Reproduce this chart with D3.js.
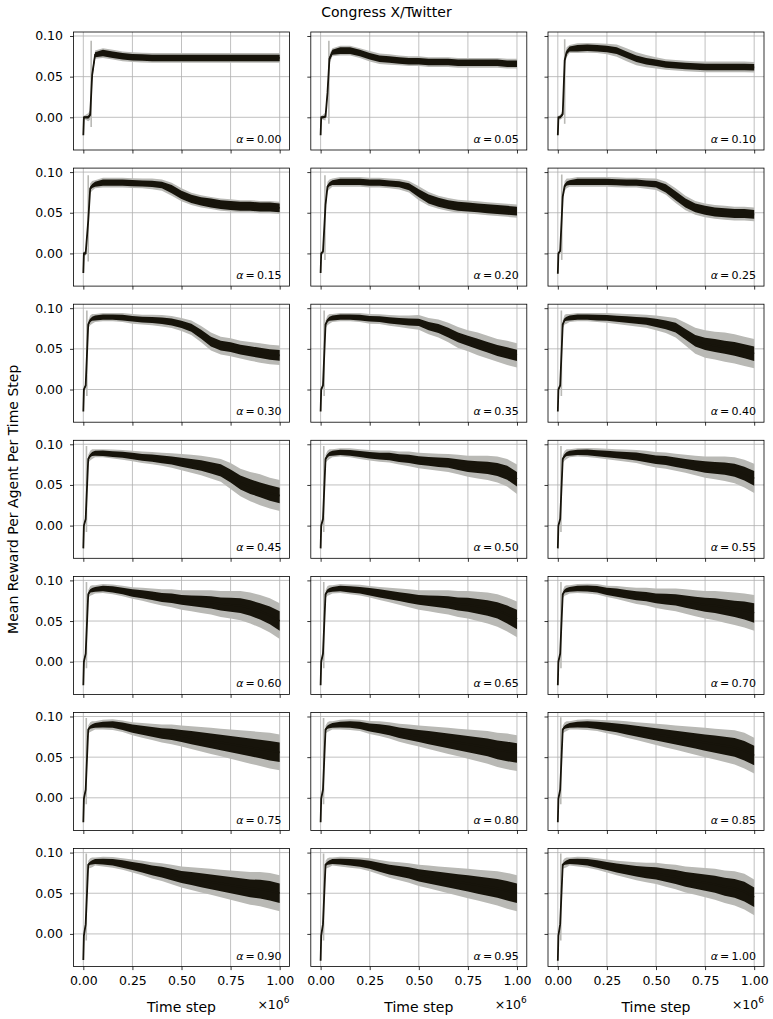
<!DOCTYPE html>
<html>
<head>
<meta charset="utf-8">
<script src="https://cdn.jsdelivr.net/npm/d3@7"></script>
<style>
  body { margin: 0; background: #fff; }
  text { font-family: "DejaVu Sans", sans-serif; fill: #000; }
</style>
</head>
<body>
<svg id="chart" width="773" height="1019"></svg>
<script>
// panel labels (alpha values)
const alphas = ["0.00","0.05","0.10","0.15","0.20","0.25","0.30","0.35","0.40","0.45",
                "0.50","0.55","0.60","0.65","0.70","0.75","0.80","0.85","0.90","0.95","1.00"];

// time steps (x 1e6): early transient + main grid
const xStart = [0, 0.003, 0.012, 0.025, 0.035, 0.045, 0.06];
const xMain = [0.1, 0.15, 0.2, 0.25, 0.3, 0.35, 0.4, 0.45, 0.5, 0.55, 0.6, 0.65, 0.7, 0.75, 0.8, 0.85, 0.9, 0.95, 1.0];

const xTicks = [0, 0.25, 0.5, 0.75, 1.0];
const yTicks = [0, 0.05, 0.10];

// mean reward during the first steps, one row per panel
const meanStart = [
  [-0.022, 0, 0, 0, 0.003, 0.052, 0.077],
  [-0.022, 0, 0, 0.001, 0.030, 0.072, 0.080],
  [-0.022, 0, 0, 0.004, 0.070, 0.080, 0.084],
  [-0.024, 0, 0, 0.040, 0.080, 0.083, 0.085],
  [-0.024, 0, 0.002, 0.060, 0.082, 0.085, 0.087],
  [-0.025, 0, 0.003, 0.070, 0.083, 0.086, 0.087],
  [-0.027, 0, 0.005, 0.080, 0.085, 0.087, 0.088],
  [-0.027, 0, 0.005, 0.080, 0.085, 0.087, 0.088],
  [-0.027, 0, 0.005, 0.080, 0.086, 0.087, 0.088],
  [-0.028, 0, 0.008, 0.082, 0.086, 0.088, 0.089],
  [-0.028, 0, 0.008, 0.082, 0.086, 0.088, 0.089],
  [-0.028, 0, 0.008, 0.082, 0.086, 0.088, 0.089],
  [-0.029, 0, 0.010, 0.083, 0.087, 0.088, 0.089],
  [-0.029, 0, 0.010, 0.083, 0.087, 0.088, 0.089],
  [-0.029, 0, 0.010, 0.083, 0.087, 0.088, 0.089],
  [-0.030, -0.001, 0.010, 0.084, 0.087, 0.088, 0.089],
  [-0.030, -0.001, 0.010, 0.084, 0.087, 0.088, 0.089],
  [-0.030, -0.001, 0.010, 0.084, 0.087, 0.088, 0.089],
  [-0.032, -0.002, 0.012, 0.085, 0.087, 0.088, 0.089],
  [-0.033, -0.002, 0.012, 0.085, 0.087, 0.088, 0.089],
  [-0.033, -0.002, 0.012, 0.085, 0.087, 0.088, 0.089]
];

// mean reward on the main grid
const meanMain = [
  [.079,.077,.075,.074,.0735,.073,.073,.073,.073,.073,.073,.073,.073,.073,.073,.073,.073,.073,.073],
  [.082,.082,.079,.075,.072,.071,.070,.069,.069,.068,.068,.068,.067,.067,.067,.067,.067,.066,.066],
  [.085,.0855,.085,.084,.082,.077,.072,.069,.067,.065,.064,.063,.0625,.062,.062,.062,.062,.062,.0615],
  [.087,.087,.087,.0865,.086,.0855,.084,.079,.072,.067,.064,.062,.060,.059,.058,.058,.057,.057,.056],
  [.088,.088,.088,.087,.087,.086,.085,.082,.074,.067,.063,.060,.058,.057,.056,.055,.054,.053,.052],
  [.088,.088,.088,.088,.0875,.087,.087,.086,.085,.080,.071,.062,.056,.053,.051,.050,.049,.049,.048],
  [.089,.089,.0885,.087,.086,.0855,.0845,.083,.080,.076,.068,.059,.054,.052,.049,.047,.045,.043,.042],
  [.089,.089,.0885,.087,.0865,.085,.084,.083,.0825,.078,.075,.070,.064,.060,.056,.052,.048,.045,.042],
  [.089,.089,.0885,.088,.087,.086,.085,.084,.082,.0795,.076,.068,.060,.056,.054,.052,.050,.047,.044],
  [.089,.088,.087,.0855,.084,.083,.0815,.080,.078,.076,.074,.071,.068,.061,.053,.048,.044,.040,.037],
  [.090,.0895,.088,.0865,.0855,.085,.083,.082,.080,.079,.078,.077,.075,.073,.072,.071,.069,.065,.057],
  [.090,.090,.089,.088,.087,.086,.085,.083,.081,.080,.078,.076,.074,.072,.071,.070,.068,.064,.058],
  [.090,.089,.087,.0845,.083,.081,.079,.078,.076,.075,.074,.073,.071,.070,.069,.066,.062,.057,.050],
  [.090,.089,.088,.086,.084,.082,.080,.078,.076,.075,.074,.073,.071,.070,.068,.066,.063,.058,.052],
  [.090,.090,.089,.0865,.085,.083,.081,.080,.078,.077,.076,.074,.072,.070,.069,.067,.065,.063,.060],
  [.090,.090,.088,.085,.083,.081,.079,.078,.076,.074,.072,.070,.068,.066,.064,.062,.060,.058,.056],
  [.090,.090,.089,.0865,.085,.083,.080,.078,.076,.074,.072,.070,.068,.066,.064,.062,.059,.057,.055],
  [.090,.090,.089,.0875,.086,.084,.082,.080,.078,.076,.074,.072,.070,.068,.066,.064,.062,.058,.052],
  [.089,.088,.086,.0835,.081,.078,.076,.073,.070,.068,.066,.064,.062,.060,.058,.056,.055,.053,.050],
  [.089,.088,.087,.085,.082,.079,.077,.075,.072,.070,.068,.066,.064,.062,.060,.058,.056,.053,.050],
  [.089,.088,.086,.0835,.081,.079,.077,.0755,.0745,.072,.070,.067,.065,.063,.061,.058,.056,.052,.045]
];

// half spread of the dark (mean) band and of the light band
const blackStart = [0.0012, 0.0012, 0.0012, 0.0015, 0.002, 0.0025, 0.003];
const grayStart  = [0.002, 0.002, 0.003, 0.005, 0.006, 0.006, 0.005];

const blackHalf = [
  [.004,.004,.004,.004,.004,.004,.004,.004,.004,.004,.004,.004,.004,.004,.004,.004,.004,.004,.004],
  [.004,.004,.004,.004,.004,.004,.004,.004,.004,.004,.004,.004,.004,.004,.004,.004,.004,.004,.004],
  [.004,.004,.004,.004,.004,.004,.004,.004,.004,.004,.004,.004,.004,.004,.004,.004,.004,.004,.004],
  [.0038,.0038,.0038,.0038,.0038,.0038,.004,.005,.005,.005,.005,.0055,.0055,.0055,.0055,.0055,.0055,.0055,.0055],
  [.0038,.0038,.0038,.0038,.0038,.0038,.0038,.0042,.005,.0055,.0055,.0055,.0055,.0055,.0055,.0055,.0055,.0055,.0055],
  [.0038,.0038,.0038,.0038,.0038,.0038,.0038,.0038,.004,.005,.0055,.0055,.0055,.0055,.0055,.0055,.0055,.0055,.0055],
  [.0033,.0033,.0035,.0035,.0035,.0038,.004,.0042,.0045,.005,.0055,.006,.006,.006,.006,.0062,.0062,.0065,.0065],
  [.0033,.0033,.0035,.0035,.0035,.0038,.004,.0042,.0045,.005,.0055,.006,.006,.0062,.0065,.0065,.0068,.007,.007],
  [.0033,.0033,.0035,.0035,.0038,.004,.0042,.0045,.005,.0055,.006,.0065,.007,.0075,.008,.008,.0085,.0085,.009],
  [.0033,.0035,.0037,.004,.0042,.0045,.0048,.005,.0055,.006,.0065,.007,.0075,.008,.0085,.009,.009,.0095,.0095],
  [.0033,.0035,.0037,.004,.0042,.0045,.0048,.005,.0052,.0055,.0058,.006,.0065,.007,.0072,.0075,.008,.0085,.009],
  [.0033,.0035,.0037,.004,.0042,.0045,.0048,.005,.0052,.0055,.0058,.006,.0065,.007,.0072,.0075,.008,.0085,.009],
  [.0035,.0038,.004,.0045,.005,.0052,.0055,.0058,.006,.0065,.007,.0075,.008,.0085,.009,.0095,.010,.011,.012],
  [.0035,.0038,.004,.0045,.005,.0052,.0055,.0058,.006,.0065,.007,.0075,.008,.0085,.009,.0095,.010,.011,.012],
  [.0035,.0038,.004,.0045,.005,.0052,.0055,.0058,.006,.0065,.007,.0075,.008,.0085,.009,.0095,.010,.011,.012],
  [.0035,.004,.0045,.005,.0055,.006,.0065,.007,.0075,.008,.0085,.009,.0095,.010,.0105,.011,.0115,.012,.012],
  [.0035,.004,.0045,.005,.0055,.006,.0065,.007,.0075,.008,.0085,.009,.0095,.010,.0105,.011,.0115,.012,.012],
  [.0035,.004,.0045,.005,.0055,.006,.0065,.007,.0075,.008,.0085,.009,.0095,.010,.0105,.011,.0115,.012,.012],
  [.0035,.004,.0045,.005,.0055,.006,.0065,.007,.0075,.008,.0085,.009,.0095,.010,.0105,.011,.0115,.012,.012],
  [.0035,.004,.0045,.005,.0055,.006,.0065,.007,.0075,.008,.0085,.009,.0095,.010,.0105,.011,.0115,.012,.012],
  [.0035,.004,.0045,.005,.0055,.006,.0065,.007,.0075,.008,.0085,.009,.0095,.010,.0105,.011,.0115,.012,.012]
];

const grayHalf = [
  [.006,.006,.006,.006,.006,.006,.006,.006,.006,.006,.006,.006,.006,.006,.006,.006,.006,.006,.006],
  [.006,.006,.006,.0065,.0065,.0065,.006,.006,.006,.006,.006,.006,.006,.006,.006,.006,.006,.006,.006],
  [.006,.006,.006,.0065,.0075,.008,.008,.0075,.007,.0065,.0065,.0065,.0065,.0065,.0065,.0065,.0065,.0065,.0065],
  [.006,.006,.006,.006,.006,.0065,.007,.008,.008,.0075,.0075,.0075,.0075,.0075,.0075,.0075,.0075,.0075,.0075],
  [.006,.006,.006,.006,.006,.006,.0065,.007,.0085,.0085,.008,.008,.008,.008,.008,.008,.008,.008,.008],
  [.006,.006,.006,.006,.006,.006,.006,.0065,.007,.008,.009,.009,.0085,.0085,.0085,.0085,.0085,.0085,.0085],
  [.005,.005,.0055,.006,.006,.0065,.007,.0075,.008,.009,.010,.011,.011,.011,.011,.0115,.012,.012,.012],
  [.005,.005,.0055,.006,.006,.0065,.007,.008,.009,.010,.011,.012,.013,.013,.014,.014,.014,.015,.015],
  [.005,.005,.0055,.006,.0065,.007,.0075,.008,.009,.010,.012,.014,.016,.017,.017,.018,.018,.018,.018],
  [.005,.0055,.006,.0065,.007,.0075,.008,.009,.010,.011,.012,.013,.014,.016,.017,.018,.019,.019,.019],
  [.005,.0055,.006,.0065,.007,.0075,.008,.009,.0095,.010,.0105,.011,.012,.013,.014,.015,.016,.017,.018],
  [.005,.0055,.006,.0065,.007,.0075,.008,.009,.0095,.010,.0105,.011,.012,.013,.014,.015,.016,.017,.018],
  [.0055,.006,.0065,.007,.008,.009,.010,.011,.012,.013,.014,.015,.016,.017,.018,.019,.020,.021,.022],
  [.0055,.006,.0065,.007,.008,.009,.010,.011,.012,.013,.014,.015,.016,.017,.018,.019,.020,.021,.022],
  [.0055,.006,.0065,.007,.008,.009,.010,.011,.012,.013,.014,.015,.016,.017,.018,.019,.020,.021,.022],
  [.006,.0065,.007,.008,.009,.010,.011,.012,.013,.014,.015,.016,.017,.018,.019,.020,.021,.022,.022],
  [.006,.0065,.007,.008,.009,.010,.011,.012,.013,.014,.015,.016,.017,.018,.019,.020,.021,.022,.022],
  [.006,.0065,.007,.008,.009,.010,.011,.012,.013,.014,.015,.016,.017,.018,.019,.020,.021,.022,.022],
  [.006,.0065,.007,.008,.009,.010,.011,.012,.013,.014,.015,.016,.017,.018,.019,.020,.021,.022,.022],
  [.006,.0065,.007,.008,.009,.010,.011,.012,.013,.014,.015,.016,.017,.018,.019,.020,.021,.022,.022],
  [.006,.0065,.007,.008,.009,.010,.011,.012,.013,.014,.015,.016,.017,.018,.019,.020,.021,.022,.022]
];

// early spike of the light band: [time step, low, high]
const spikes = [
  [0.040, -0.012, 0.094], [0.042, -0.008, 0.094], [0.035, -0.008, 0.096],
  [0.025, -0.010, 0.096], [0.022, -0.008, 0.096], [0.020, -0.008, 0.097],
  [0.018, -0.008, 0.097], [0.018, -0.008, 0.097], [0.018, -0.008, 0.097],
  [0.016, -0.008, 0.098], [0.016, -0.008, 0.098], [0.016, -0.008, 0.098],
  [0.016, -0.008, 0.098], [0.016, -0.008, 0.098], [0.016, -0.008, 0.098],
  [0.015, -0.008, 0.098], [0.015, -0.008, 0.098], [0.015, -0.008, 0.099],
  [0.015, -0.008, 0.099], [0.015, -0.008, 0.099], [0.015, -0.008, 0.099]
];

// layout
const W = 773, H = 1019;
const nCols = 3, nRows = 7;
const colLeft = [73.5, 310.8, 548];
const rowTop0 = 32, rowPitch = 136.1;
const pw = 216, ph = 118;
const gridColor = "#b0b0b0";
const bandGray = "#b9b9b5";
const lineBlack = "#17140b";

const svg = d3.select("#chart");

const x = d3.scaleLinear().domain([-0.05, 1.05]).range([0, pw]);
const y = d3.scaleLinear().domain([-0.0402, 0.1049]).range([ph, 0]);

svg.append("text")
  .attr("x", W / 2).attr("y", 17)
  .attr("text-anchor", "middle")
  .style("font-size", "14px")
  .text("Congress X/Twitter");

svg.append("text")
  .attr("transform", `translate(18,${rowTop0 + (rowPitch * (nRows - 1) + ph) / 2}) rotate(-90)`)
  .attr("text-anchor", "middle")
  .style("font-size", "14px")
  .text("Mean Reward Per Agent Per Time Step");

alphas.forEach((a, i) => {
  const row = Math.floor(i / nCols), col = i % nCols;
  const g = svg.append("g")
    .attr("transform", `translate(${colLeft[col]},${rowTop0 + row * rowPitch})`);

  g.append("clipPath").attr("id", "clip" + i)
    .append("rect").attr("width", pw).attr("height", ph);

  // grid
  g.append("g").selectAll("line").data(xTicks).join("line")
    .attr("x1", d => x(d)).attr("x2", d => x(d))
    .attr("y1", 0).attr("y2", ph)
    .attr("stroke", gridColor).attr("stroke-width", 0.8);
  g.append("g").selectAll("line").data(yTicks).join("line")
    .attr("y1", d => y(d)).attr("y2", d => y(d))
    .attr("x1", 0).attr("x2", pw)
    .attr("stroke", gridColor).attr("stroke-width", 0.8);

  // series for this panel
  const pts = xStart.map((t, k) => ({ t, m: meanStart[i][k], b: blackStart[k], s: grayStart[k] }))
    .concat(xMain.map((t, k) => ({ t, m: meanMain[i][k], b: blackHalf[i][k], s: grayHalf[i][k] })));

  const plot = g.append("g").attr("clip-path", `url(#clip${i})`);

  plot.append("path").datum(pts)
    .attr("fill", bandGray)
    .attr("d", d3.area().x(d => x(d.t)).y0(d => y(d.m - d.s)).y1(d => y(d.m + d.s)));

  const sp = spikes[i];
  plot.append("line")
    .attr("x1", x(sp[0])).attr("x2", x(sp[0]))
    .attr("y1", y(sp[1])).attr("y2", y(sp[2]))
    .attr("stroke", bandGray).attr("stroke-width", 1.6);

  plot.append("path").datum(pts)
    .attr("fill", lineBlack)
    .attr("d", d3.area().x(d => x(d.t)).y0(d => y(d.m - d.b)).y1(d => y(d.m + d.b)));

  plot.append("path").datum(pts)
    .attr("fill", "none").attr("stroke", lineBlack).attr("stroke-width", 1.8)
    .attr("d", d3.line().x(d => x(d.t)).y(d => y(d.m)));

  // axes
  const ax = g.append("g").attr("transform", `translate(0,${ph})`)
    .call(d3.axisBottom(x).tickValues(xTicks).tickSize(3.5).tickPadding(6)
      .tickFormat(row === nRows - 1 ? d3.format(".2f") : () => ""));
  const ay = g.append("g")
    .call(d3.axisLeft(y).tickValues(yTicks).tickSize(3.5).tickPadding(7)
      .tickFormat(col === 0 ? d3.format(".2f") : () => ""));
  [ax, ay].forEach(s => {
    s.select(".domain").remove();
    s.selectAll(".tick line").attr("stroke", "#000").attr("stroke-width", 0.8);
    s.selectAll(".tick text").style("font-size", "12.5px").attr("fill", "#000")
      .style("font-family", "'DejaVu Sans', sans-serif");
  });

  g.append("rect").attr("width", pw).attr("height", ph)
    .attr("fill", "none").attr("stroke", "#000").attr("stroke-width", 0.8);

  const lab = g.append("text")
    .attr("x", pw - 8).attr("y", ph - 7)
    .attr("text-anchor", "end")
    .style("font-size", "11px");
  lab.append("tspan").style("font-style", "italic").text("α");
  lab.append("tspan").text("\u2009=\u2009" + a);

  if (row === nRows - 1) {
    g.append("text")
      .attr("x", pw / 2).attr("y", ph + 45)
      .attr("text-anchor", "middle")
      .style("font-size", "14px")
      .text("Time step");
    const off = g.append("text")
      .attr("x", pw).attr("y", ph + 42)
      .attr("text-anchor", "end")
      .style("font-size", "12.5px");
    off.append("tspan").text("×10");
    off.append("tspan").attr("dy", -6).style("font-size", "9px").text("6");
  }
});
</script>
</body>
</html>
